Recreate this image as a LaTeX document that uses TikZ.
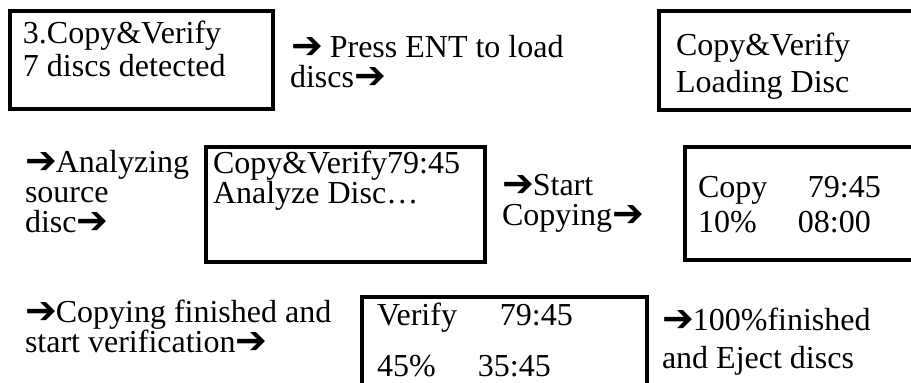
\documentclass[tikz,border=0pt]{standalone}
\usepackage{fontspec}
\setmainfont{Liberation Serif}
\newfontfamily\dejavu{DejaVu Sans}
\newcommand\harr{{\dejavu\fontsize{38}{38}\selectfont\raisebox{-1.5pt}[0pt][0pt]{➔}}\kern-1pt}
\begin{document}
\begin{tikzpicture}[x=1pt,y=-1pt,
  lcd/.style={draw=black, line width=4pt, inner sep=0pt, outer sep=0pt},
  txt/.style={anchor=base west, inner sep=0pt, outer sep=0pt, font=\fontsize{32}{36}\selectfont}]
\clip (0,0) rectangle (911,383);
\fill[white] (0,0) rectangle (911,383);
% boxes
\node[lcd, minimum width=263.5pt, minimum height=98.5pt] (b1) at (141.25,59.75) {};
\node[lcd, minimum width=281.5pt, minimum height=99pt] (b2) at (799.25,60) {};
\node[lcd, minimum width=279pt, minimum height=114.5pt] (b3) at (345.5,204.25) {};
\node[lcd, minimum width=255.5pt, minimum height=113pt] (b4) at (812.25,203.5) {};
\node[lcd, minimum width=285pt, minimum height=103pt] (b5) at (504.5,348.5) {};
% row 1
\node[txt] (t1a) at (23,43) {3.Copy\&Verify};
\node[txt] (t1b) at (23,76) {7 discs detected};
\node[txt] (p1a) at (291,57) {\harr{} Press ENT to load};
\node[txt] (p1b) at (290,87) {discs\harr};
\node[txt] (t2a) at (676,55) {Copy\&Verify};
\node[txt] (t2b) at (676,92) {Loading Disc};
% row 2
\node[txt] (p2a) at (25,172) {\harr Analyzing};
\node[txt] (p2b) at (25,202) {source};
\node[txt] (p2c) at (25,232) {disc\harr};
\node[txt] (t3a) at (213,173) {Copy\&Verify79:45};
\node[txt] (t3b) at (213,203) {Analyze Disc…};
\node[txt] (p3a) at (502,195) {\harr Start};
\node[txt] (p3b) at (502,225) {Copying\harr};
\node[txt] (t4a) at (698,197) {\makebox[110pt][l]{Copy}79:45};
\node[txt] (t4b) at (698,232) {\makebox[100pt][l]{10\%}08:00};
% row 3
\node[txt] (p4a) at (25,322) {\harr Copying finished and};
\node[txt] (p4b) at (25,352) {start verification\harr};
\node[txt] (t5a) at (377,325) {\makebox[123pt][l]{Verify}79:45};
\node[txt] (t5b) at (377,376) {\makebox[101pt][l]{45\%}35:45};
\node[txt] (p5a) at (662,330) {\harr 100\%finished};
\node[txt] (p5b) at (662,368) {and Eject discs};
\end{tikzpicture}
\end{document}
